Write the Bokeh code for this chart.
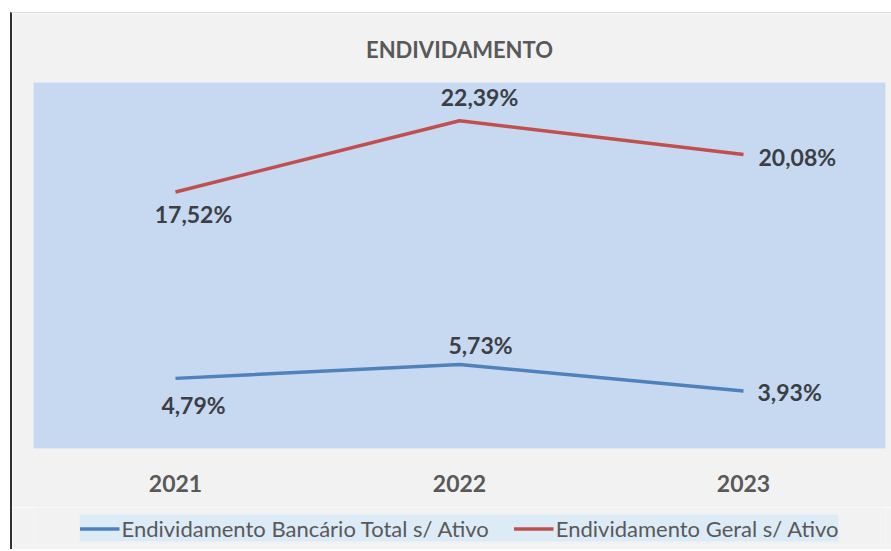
from bokeh.plotting import figure
from bokeh.layouts import column
from bokeh.models import ColumnDataSource, Legend, LegendItem, FactorRange, Range1d
from bokeh.embed import file_html
from bokeh.resources import INLINE
from bokeh.core.properties import value

# ---- data ----
years = ["2021", "2022", "2023"]
bancario = [4.79, 5.73, 3.93]
geral = [17.52, 22.39, 20.08]
series_names = ["Endividamento Bancário Total s/ Ativo", "Endividamento Geral s/ Ativo"]
title_text = "ENDIVIDAMENTO"


def fmt(v):
    return f"{v:.2f}".replace(".", ",") + "%"


FONT = "Lato"
RED = "#C0504D"
BLUE = "#4F81BD"
LABEL_COLOR = "#3B3F45"
GREY_TEXT = "#595959"
CHART_BG = "#F2F2F2"

p = figure(
    x_range=FactorRange(*years),
    y_range=(0, 25),
    width=879,
    height=494,
    output_backend="svg",
    toolbar_location=None,
    min_border_left=21,
    min_border_right=6,
    min_border_top=69,
    min_border_bottom=59,
)

p.background_fill_color = "#C6D9F0"
p.border_fill_color = CHART_BG
p.outline_line_color = None
p.xgrid.visible = False
p.ygrid.visible = False
p.yaxis.visible = False

ax = p.xaxis[0]
ax.axis_line_color = None
ax.major_tick_line_color = None
ax.minor_tick_line_color = None
ax.major_label_text_font = FONT
ax.major_label_text_font_size = "23px"
ax.major_label_text_font_style = "bold"
ax.major_label_text_color = GREY_TEXT
ax.major_label_standoff = 20

p.title.text = title_text
p.title.align = "center"
p.title.text_font = FONT
p.title.text_font_size = "22px"
p.title.text_font_style = "bold"
p.title.text_color = GREY_TEXT
p.title.standoff = 40

p.line(years, bancario, line_color=BLUE, line_width=3.5)
p.line(years, geral, line_color=RED, line_width=3.5)

red_src = ColumnDataSource(dict(
    x=years, y=geral, t=[fmt(v) for v in geral],
    dx=[18, 20, 15], dy=[22, -24, 2],
))
blue_src = ColumnDataSource(dict(
    x=years, y=bancario, t=[fmt(v) for v in bancario],
    dx=[18, 21, 14], dy=[27, -20, 1],
))
for src in (red_src, blue_src):
    d = src.data
    centered = ColumnDataSource({k: v[:2] for k, v in d.items()})
    righted = ColumnDataSource({k: v[2:] for k, v in d.items()})
    for s, al in ((centered, "center"), (righted, "left")):
        p.text(x="x", y="y", text="t", source=s, x_offset="dx", y_offset="dy",
               text_align=al, text_baseline="middle",
               text_font=value(FONT), text_font_size="23px", text_font_style="bold",
               text_color=LABEL_COLOR)

# ---- legend strip (separate small figure; series lines kept out of its view) ----
p2 = figure(
    x_range=FactorRange(*years),
    y_range=Range1d(100, 101),
    width=879,
    height=42,
    output_backend="svg",
    toolbar_location=None,
    min_border_left=16,
    min_border_right=0,
    min_border_top=0,
    min_border_bottom=0,
)
p2.axis.visible = False
p2.xgrid.visible = False
p2.ygrid.visible = False
p2.outline_line_color = None
p2.background_fill_color = CHART_BG
p2.border_fill_color = CHART_BG

l_blue = p2.line(years, bancario, line_color=BLUE, line_width=3.5)
l_red = p2.line(years, geral, line_color=RED, line_width=3.5)

legend = Legend(
    items=[LegendItem(label=series_names[0], renderers=[l_blue]),
           LegendItem(label=series_names[1], renderers=[l_red])],
    orientation="horizontal",
    location="center",
    background_fill_color="#DDEBF7",
    background_fill_alpha=1.0,
    border_line_color=None,
    label_text_font=FONT,
    label_text_font_size="22px",
    label_text_color=GREY_TEXT,
    glyph_width=40,
    glyph_height=20,
    label_standoff=2,
    spacing=25,
    padding=7,
    margin=0,
)
p2.add_layout(legend, "center")

layout = column(p, p2, spacing=0)
layout.styles = {
    "margin-left": "10px",
    "margin-top": "12px",
    "border-left": "2px solid #303030",
    "border-top": "1px solid #D9D9D9",
}

open("out.html", "w").write(file_html(layout, INLINE))
